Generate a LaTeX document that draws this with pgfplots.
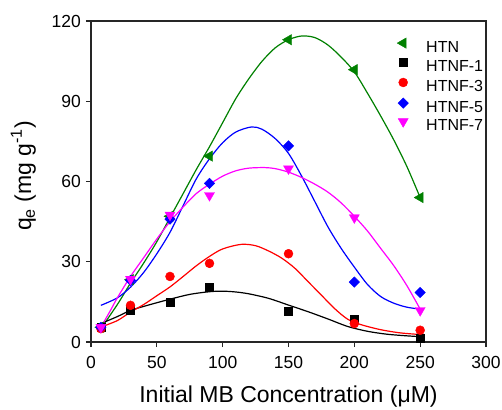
\documentclass[border=0pt]{standalone}
\usepackage{pgfplots}
\pgfplotsset{compat=1.18}
\usepackage{fontspec}
\setmainfont{Liberation Sans}

\definecolor{htn}{RGB}{0,128,0}
\definecolor{hfone}{RGB}{0,0,0}
\definecolor{hfthree}{RGB}{255,0,0}
\definecolor{hffive}{RGB}{0,0,255}
\definecolor{hfseven}{RGB}{255,0,255}

\begin{document}
\begin{tikzpicture}
\begin{axis}[
  name=ax,
  scale only axis,
  width=395pt, height=321pt,
  xmin=0, xmax=300, ymin=0, ymax=120,
  xtick={0,50,...,300}, ytick={0,30,...,120},
  axis line style={line width=1.2pt, black!85},
  tick style={line width=1.2pt, black!85},
  major tick length=5pt,
  tick align=outside,
  xtick pos=bottom, ytick pos=left,
  clip=false,
  /pgf/number format/assume math mode=true,
  ticklabel style={font=\fontsize{17.5}{20}\selectfont},
  yticklabel style={inner sep=0pt, anchor=east, xshift=-5pt},
  xticklabel style={inner sep=0pt, anchor=north, yshift=-9pt},
  xlabel={Initial MB Concentration (μM)},
  ylabel={q\textsubscript{e} (mg g\textsuperscript{-1})},
  label style={font=\fontsize{23}{26}\selectfont, inner sep=0pt},
  xlabel style={at={([yshift=-60pt]axis description cs:0.5,0)}, anchor=base},
  ylabel style={at={([xshift=-55pt]axis description cs:0,0.517)}, anchor=south},
  legend style={draw=none, fill=none, inner sep=0pt, at={(rel axis cs:0.761,0.948)}, anchor=north west,
    font=\fontsize{16}{19}\selectfont, row sep=3.2pt,
    nodes={inner sep=0pt, text height=11.5pt, text depth=3pt}},
  legend cell align=left,
  legend image code/.code={\draw[#1] plot coordinates {(11.4pt,5pt)}; \path[draw=none] (0pt,0pt) -- (34.4pt,0pt);},
]
% fitted curves
\addplot[htn, line width=1.2pt, smooth, forget plot] coordinates {
(7.5,5) (20,14) (30,22) (40,29.5) (50,37.5) (60,46.5) (70,55.5) (80,64.5) (90,73) (100,82)
(110,91) (120,98.5) (130,105) (140,110) (150,113) (160,114.4) (170,113.8) (180,111) (190,106.5)
(200,101) (210,93) (220,84.5) (230,75.5) (240,65.5) (250,54)};
\addplot[hfone, line width=1.2pt, smooth, forget plot] coordinates {
(7.5,6.9) (20,9.5) (30,11.8) (45,14) (60,16) (75,17.8) (90,18.8) (100,19) (110,18.7) (120,18)
(135,16.3) (150,13.8) (165,11.3) (180,8.6) (195,5.8) (210,4) (225,2.9) (240,2.3) (250,2.0)};
\addplot[hfthree, line width=1.2pt, smooth, forget plot] coordinates {
(7.5,5.6) (20,8) (30,11.2) (40,14) (50,17.3) (60,20.6) (70,24.5) (80,28.5) (90,32) (100,34.8)
(114,36.5) (125,36) (135,34) (145,31.3) (155,27.5) (165,22.5) (175,17.5) (185,12.5) (195,8.5)
(205,6.5) (220,4.6) (235,3.4) (250,2.8)};
\addplot[hffive, line width=1.2pt, smooth, forget plot] coordinates {
(7.5,13.7) (20,16.5) (30,20.5) (40,26) (50,33) (60,41) (70,51) (80,61) (90,68.5) (100,74.5)
(110,78.5) (122,80.4) (130,79.5) (140,76) (150,70.5) (160,62) (170,52.5) (180,43) (190,35)
(200,28) (210,21.5) (220,17) (230,14.5) (240,13) (250,12.3)};
\addplot[hfseven, line width=1.2pt, smooth, forget plot] coordinates {
(7.5,5.5) (15,12) (20,16.5) (30,24.5) (40,31.5) (50,38.5) (60,45) (70,50.5) (80,55.5) (90,59)
(100,62) (110,64) (120,65) (132,65.2) (140,64.8) (150,63.5) (160,61.5) (170,59) (180,56)
(190,52) (200,47) (210,41.5) (220,35) (230,28.5) (240,21) (250,12.3)};
% measured points
\addplot[only marks, mark=triangle*, mark size=6pt, mark options={rotate=90, draw=htn, fill=htn}] coordinates {
(7.5,5.5) (30,23.3) (60,47) (90,69.5) (150,113) (200,101.8) (250,54)};
\addplot[only marks, mark=square*, mark size=4pt, mark options={draw=hfone, fill=hfone}] coordinates {
(7.5,5.5) (30,12) (60,15) (90,20.3) (150,11.5) (200,8.7) (250,1.6)};
\addplot[only marks, mark=*, mark size=4.5pt, mark options={draw=hfthree, fill=hfthree}] coordinates {
(7.5,5) (30,13.7) (60,24.5) (90,29.4) (150,33) (200,6.9) (250,4.4)};
\addplot[only marks, mark=square*, mark size=3.7pt, mark options={rotate=45, draw=hffive, fill=hffive}] coordinates {
(7.5,5.5) (30,23) (60,45.9) (90,59.3) (150,73.3) (200,22.4) (250,18.5)};
\addplot[only marks, mark=triangle*, mark size=5.8pt, mark options={rotate=180, draw=hfseven, fill=hfseven}] coordinates {
(7.5,5.5) (30,23.5) (60,47.5) (90,54.8) (150,64.8) (200,46.5) (250,11.8)};
\legend{HTN, HTNF-1, HTNF-3, HTNF-5, HTNF-7}
\end{axis}
\path ([xshift=-91pt,yshift=-67pt]ax.south west) rectangle ([xshift=16pt,yshift=21pt]ax.north east);
\end{tikzpicture}
\end{document}
